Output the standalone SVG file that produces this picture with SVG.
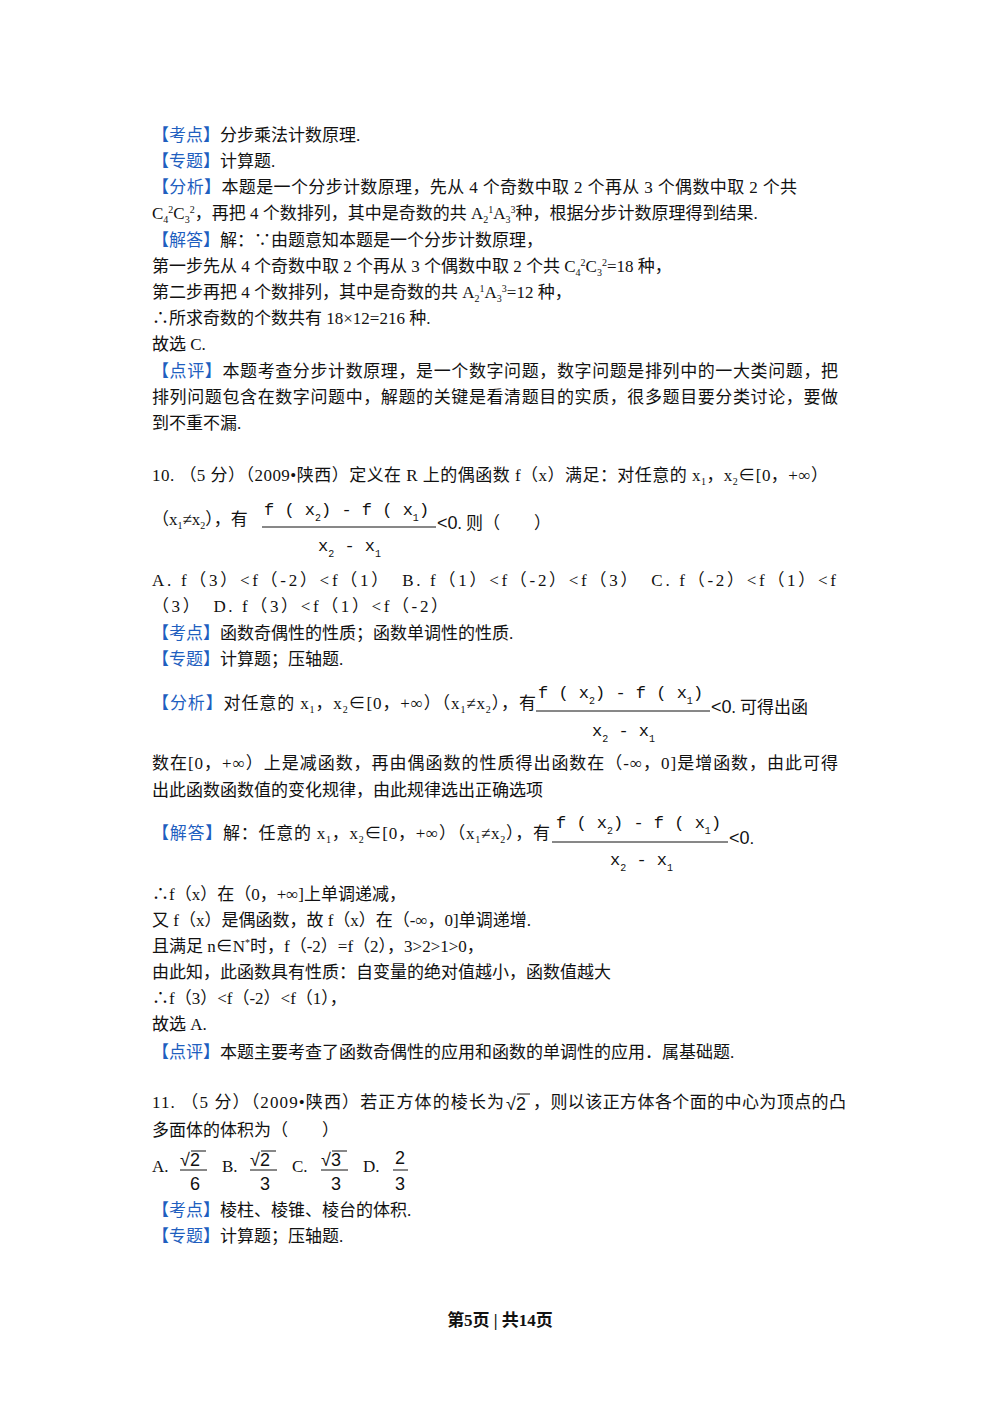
<svg xmlns="http://www.w3.org/2000/svg" width="1000" height="1414" viewBox="0 0 1000 1414">
<style>
text{font-family:"Liberation Serif","Noto Sans CJK SC",serif;font-size:17px;fill:#111}
.b{fill:#1f5fbf}
.m{font-family:"Liberation Mono","Noto Sans CJK SC",monospace;font-size:17px}
.s{font-size:10px}
.f{font-family:"Liberation Sans",sans-serif;font-size:18px}
line{stroke:#111;stroke-width:1}
</style>
<rect width="1000" height="1414" fill="#fff"/>
<text x="152" y="141"><tspan class="b">【考点】</tspan>分步乘法计数原理.</text>
<text x="152" y="167"><tspan class="b">【专题】</tspan>计算题.</text>
<text x="152" y="193" textLength="645" lengthAdjust="spacing"><tspan class="b">【分析】</tspan>本题是一个分步计数原理，先从 4 个奇数中取 2 个再从 3 个偶数中取 2 个共</text>
<text x="152" y="219">C<tspan class="s" dy="4">4</tspan><tspan class="s" dy="-10">2</tspan><tspan dy="6">C</tspan><tspan class="s" dy="4">3</tspan><tspan class="s" dy="-10">2</tspan><tspan dy="6">，再把 4 个数排列，其中是奇数的共 A</tspan><tspan class="s" dy="4">2</tspan><tspan class="s" dy="-10">1</tspan><tspan dy="6">A</tspan><tspan class="s" dy="4">3</tspan><tspan class="s" dy="-10">3</tspan><tspan dy="6">种，根据分步计数原理得到结果.</tspan></text>
<text x="152" y="246"><tspan class="b">【解答】</tspan>解：∵由题意知本题是一个分步计数原理，</text>
<text x="152" y="272">第一步先从 4 个奇数中取 2 个再从 3 个偶数中取 2 个共 C<tspan class="s" dy="4">4</tspan><tspan class="s" dy="-10">2</tspan><tspan dy="6">C</tspan><tspan class="s" dy="4">3</tspan><tspan class="s" dy="-10">2</tspan><tspan dy="6">=18 种，</tspan></text>
<text x="152" y="298">第二步再把 4 个数排列，其中是奇数的共 A<tspan class="s" dy="4">2</tspan><tspan class="s" dy="-10">1</tspan><tspan dy="6">A</tspan><tspan class="s" dy="4">3</tspan><tspan class="s" dy="-10">3</tspan><tspan dy="6">=12 种，</tspan></text>
<text x="152" y="324">∴所求奇数的个数共有 18×12=216 种.</text>
<text x="152" y="350">故选 C.</text>
<text x="152" y="377" textLength="686" lengthAdjust="spacing"><tspan class="b">【点评】</tspan>本题考查分步计数原理，是一个数字问题，数字问题是排列中的一大类问题，把</text>
<text x="152" y="403" textLength="686" lengthAdjust="spacing">排列问题包含在数字问题中，解题的关键是看清题目的实质，很多题目要分类讨论，要做</text>
<text x="152" y="429">到不重不漏.</text>

<text x="152" y="481" textLength="676" lengthAdjust="spacing">10. （5 分）（2009•陕西）定义在 R 上的偶函数 f（x）满足：对任意的 x<tspan class="s" dy="4">1</tspan><tspan dy="-4">，x</tspan><tspan class="s" dy="4">2</tspan><tspan dy="-4">∈[0，+∞）</tspan></text>
<text x="152" y="525">（x<tspan class="s" dy="4">1</tspan><tspan dy="-4">≠x</tspan><tspan class="s" dy="4">2</tspan><tspan dy="-4">），有</tspan></text>
<text x="264" y="515" class="m">f ( x<tspan class="s" dy="6">2</tspan><tspan dy="-6">) - f ( x</tspan><tspan class="s" dy="6">1</tspan><tspan dy="-6">)</tspan></text>
<line x1="262" y1="527" x2="436" y2="527"/>
<text x="318" y="551" class="m">x<tspan class="s" dy="6">2</tspan><tspan dy="-6"> - x</tspan><tspan class="s" dy="6">1</tspan></text>
<text x="437" y="529" class="f">&lt;0<tspan font-size="17" font-family="Liberation Serif,Noto Sans CJK SC,serif">. 则（　　）</tspan></text>

<text x="152" y="586" textLength="684" lengthAdjust="spacing">A. f（3）&lt;f（-2）&lt;f（1）　B. f（1）&lt;f（-2）&lt;f（3）　C. f（-2）&lt;f（1）&lt;f</text>
<text x="152" y="612" textLength="296" lengthAdjust="spacing">（3）　D. f（3）&lt;f（1）&lt;f（-2）</text>
<text x="152" y="639"><tspan class="b">【考点】</tspan>函数奇偶性的性质；函数单调性的性质.</text>
<text x="152" y="665"><tspan class="b">【专题】</tspan>计算题；压轴题.</text>
<text x="152" y="709" textLength="384" lengthAdjust="spacing"><tspan class="b">【分析】</tspan>对任意的 x<tspan class="s" dy="4">1</tspan><tspan dy="-4">，x</tspan><tspan class="s" dy="4">2</tspan><tspan dy="-4">∈[0，+∞）（x</tspan><tspan class="s" dy="4">1</tspan><tspan dy="-4">≠x</tspan><tspan class="s" dy="4">2</tspan><tspan dy="-4">），有</tspan></text>
<text x="538" y="698" class="m">f ( x<tspan class="s" dy="6">2</tspan><tspan dy="-6">) - f ( x</tspan><tspan class="s" dy="6">1</tspan><tspan dy="-6">)</tspan></text>
<line x1="536" y1="711" x2="710" y2="711"/>
<text x="592" y="736" class="m">x<tspan class="s" dy="6">2</tspan><tspan dy="-6"> - x</tspan><tspan class="s" dy="6">1</tspan></text>
<text x="711" y="713" class="f">&lt;0<tspan font-size="17" font-family="Liberation Serif,Noto Sans CJK SC,serif">.  可得出函</tspan></text>
<text x="152" y="769" textLength="686" lengthAdjust="spacing">数在[0，+∞）上是减函数，再由偶函数的性质得出函数在（-∞，0]是增函数，由此可得</text>
<text x="152" y="796">出此函数函数值的变化规律，由此规律选出正确选项</text>
<text x="152" y="839" textLength="398" lengthAdjust="spacing"><tspan class="b">【解答】</tspan>解：任意的 x<tspan class="s" dy="4">1</tspan><tspan dy="-4">，x</tspan><tspan class="s" dy="4">2</tspan><tspan dy="-4">∈[0，+∞）（x</tspan><tspan class="s" dy="4">1</tspan><tspan dy="-4">≠x</tspan><tspan class="s" dy="4">2</tspan><tspan dy="-4">），有</tspan></text>
<text x="556" y="828" class="m">f ( x<tspan class="s" dy="6">2</tspan><tspan dy="-6">) - f ( x</tspan><tspan class="s" dy="6">1</tspan><tspan dy="-6">)</tspan></text>
<line x1="552" y1="842" x2="728" y2="842"/>
<text x="610" y="865" class="m">x<tspan class="s" dy="6">2</tspan><tspan dy="-6"> - x</tspan><tspan class="s" dy="6">1</tspan></text>
<text x="729" y="844" class="f">&lt;0<tspan font-size="17">.</tspan></text>
<text x="152" y="900">∴f（x）在（0，+∞]上单调递减，</text>
<text x="152" y="926">又 f（x）是偶函数，故 f（x）在（-∞，0]单调递增.</text>
<text x="152" y="952">且满足 n∈N<tspan class="s" dy="-6">*</tspan><tspan dy="6">时，f（-2）=f（2），3&gt;2&gt;1&gt;0，</tspan></text>
<text x="152" y="978">由此知，此函数具有性质：自变量的绝对值越小，函数值越大</text>
<text x="152" y="1004">∴f（3）&lt;f（-2）&lt;f（1），</text>
<text x="152" y="1030">故选 A.</text>
<text x="152" y="1058"><tspan class="b">【点评】</tspan>本题主要考查了函数奇偶性的应用和函数的单调性的应用．属基础题.</text>

<text x="152" y="1108" textLength="352" lengthAdjust="spacing">11. （5 分）（2009•陕西）若正方体的棱长为</text>
<text x="506" y="1110" class="f">√2</text>
<line x1="517" y1="1094" x2="530" y2="1094"/>
<text x="533" y="1108" textLength="313" lengthAdjust="spacing">，则以该正方体各个面的中心为顶点的凸</text>
<text x="152" y="1136">多面体的体积为（　　）</text>
<text x="152" y="1172">A.</text>
<text x="180" y="1166" class="f">√2</text><line x1="191" y1="1151" x2="206" y2="1151"/><line x1="180" y1="1170" x2="207" y2="1170"/><text x="190" y="1190" class="f">6</text>
<text x="222" y="1172">B.</text>
<text x="250" y="1166" class="f">√2</text><line x1="261" y1="1151" x2="276" y2="1151"/><line x1="250" y1="1170" x2="277" y2="1170"/><text x="260" y="1190" class="f">3</text>
<text x="292" y="1172">C.</text>
<text x="321" y="1166" class="f">√3</text><line x1="332" y1="1151" x2="347" y2="1151"/><line x1="321" y1="1170" x2="348" y2="1170"/><text x="331" y="1190" class="f">3</text>
<text x="363" y="1172">D.</text>
<text x="395" y="1164" class="f">2</text><line x1="393" y1="1170" x2="408" y2="1170"/><text x="395" y="1190" class="f">3</text>
<text x="152" y="1216"><tspan class="b">【考点】</tspan>棱柱、棱锥、棱台的体积.</text>
<text x="152" y="1242"><tspan class="b">【专题】</tspan>计算题；压轴题.</text>

<text x="500" y="1326" text-anchor="middle" font-weight="bold" font-size="17">第5页 | 共14页</text>
</svg>
